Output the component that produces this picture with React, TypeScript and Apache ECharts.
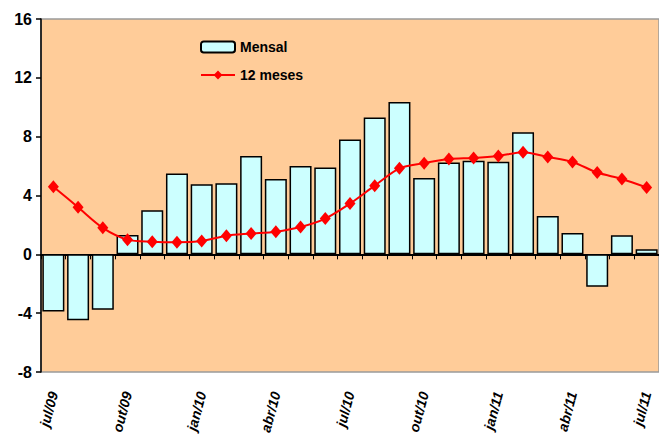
import React, { useEffect, useRef } from "react";
import * as echarts from "echarts";

// Monthly months, jul/09 .. jul/11
const months = [
  "jul/09", "ago/09", "set/09", "out/09", "nov/09", "dez/09",
  "jan/10", "fev/10", "mar/10", "abr/10", "mai/10", "jun/10",
  "jul/10", "ago/10", "set/10", "out/10", "nov/10", "dez/10",
  "jan/11", "fev/11", "mar/11", "abr/11", "mai/11", "jun/11",
  "jul/11",
];

// Monthly variation (bars)
const mensal = [
  -3.88, -4.49, -3.76, 1.31, 2.99, 5.49,
  4.77, 4.83, 6.69, 5.12, 6.0, 5.9,
  7.8, 9.3, 10.36, 5.19, 6.24, 6.37,
  6.3, 8.3, 2.6, 1.45, -2.2, 1.3,
  0.34,
];

// 12-month accumulated (line)
const dozeMeses = [
  4.6, 3.2, 1.8, 1.0, 0.86, 0.82,
  0.9, 1.27, 1.41, 1.54, 1.86, 2.43,
  3.45, 4.67, 5.85, 6.2, 6.48, 6.55,
  6.69, 6.94, 6.62, 6.28, 5.56, 5.12,
  4.54,
];

const yTicks = { min: -8, max: 16, interval: 4 };

const FONT = "'Liberation Sans', Arial, sans-serif";

export default function App() {
  const ref = useRef<HTMLDivElement>(null);

  useEffect(() => {
    document.body.style.margin = "0";
    if (!ref.current) return;
    const chart = echarts.init(ref.current, undefined, { renderer: "svg" });
    chart.setOption({
      animation: false,
      backgroundColor: "#ffffff",
      grid: {
        left: 41,
        top: 19,
        width: 625,
        height: 353,
        show: true,
        backgroundColor: "#FFCC99",
        borderColor: "#9a9a9a",
        borderWidth: 1.5,
      },
      legend: {
        orient: "vertical",
        left: 200,
        top: 40,
        padding: 0,
        itemWidth: 34,
        itemHeight: 11,
        itemGap: 14,
        textStyle: {
          fontFamily: FONT,
          fontWeight: "bold",
          fontSize: 14,
          color: "#000",
          letterSpacing: -0.8,
        },
        data: ["Mensal", "12 meses"],
      },
      xAxis: [
        {
          type: "category",
          data: months,
          position: "bottom",
          axisLine: { show: false, onZero: false },
          axisTick: { show: false },
          axisLabel: {
            interval: 2,
            rotate: 75,
            margin: 20,
            padding: [6, 0, 0, 0],
            fontFamily: FONT,
            fontWeight: "bold",
            fontStyle: "italic",
            fontSize: 14,
            color: "#000",
          },
        },
        {
          type: "category",
          data: months,
          position: "top",
          axisLine: { show: true, onZero: true, lineStyle: { color: "#000", width: 2 } },
          axisTick: {
            show: true,
            inside: true,
            interval: 0,
            length: 5,
            lineStyle: { color: "#000", width: 1 },
          },
          axisLabel: { show: false },
        },
      ],
      yAxis: {
        type: "value",
        min: yTicks.min,
        max: yTicks.max,
        interval: yTicks.interval,
        axisLine: { show: true, lineStyle: { color: "#000", width: 1.5 } },
        axisTick: { show: true, length: 5, lineStyle: { color: "#000", width: 1.5 } },
        splitLine: { show: false },
        axisLabel: {
          margin: 9,
          fontFamily: FONT,
          fontWeight: "bold",
          fontSize: 16,
          color: "#000",
        },
      },
      series: [
        {
          name: "Mensal",
          type: "bar",
          xAxisIndex: 0,
          data: mensal,
          barWidth: 22,
          itemStyle: { color: "#CCFFFF", borderColor: "#000", borderWidth: 1.5 },
          z: 2,
        },
        {
          name: "12 meses",
          type: "line",
          xAxisIndex: 0,
          data: dozeMeses,
          smooth: 0.3,
          symbol: "diamond",
          symbolSize: [11, 13],
          lineStyle: { color: "#FF0000", width: 2 },
          itemStyle: { color: "#FF0000" },
          z: 3,
        },
      ],
    });
    return () => chart.dispose();
  }, []);

  return <div ref={ref} style={{ width: 659, height: 439 }} />;
}
